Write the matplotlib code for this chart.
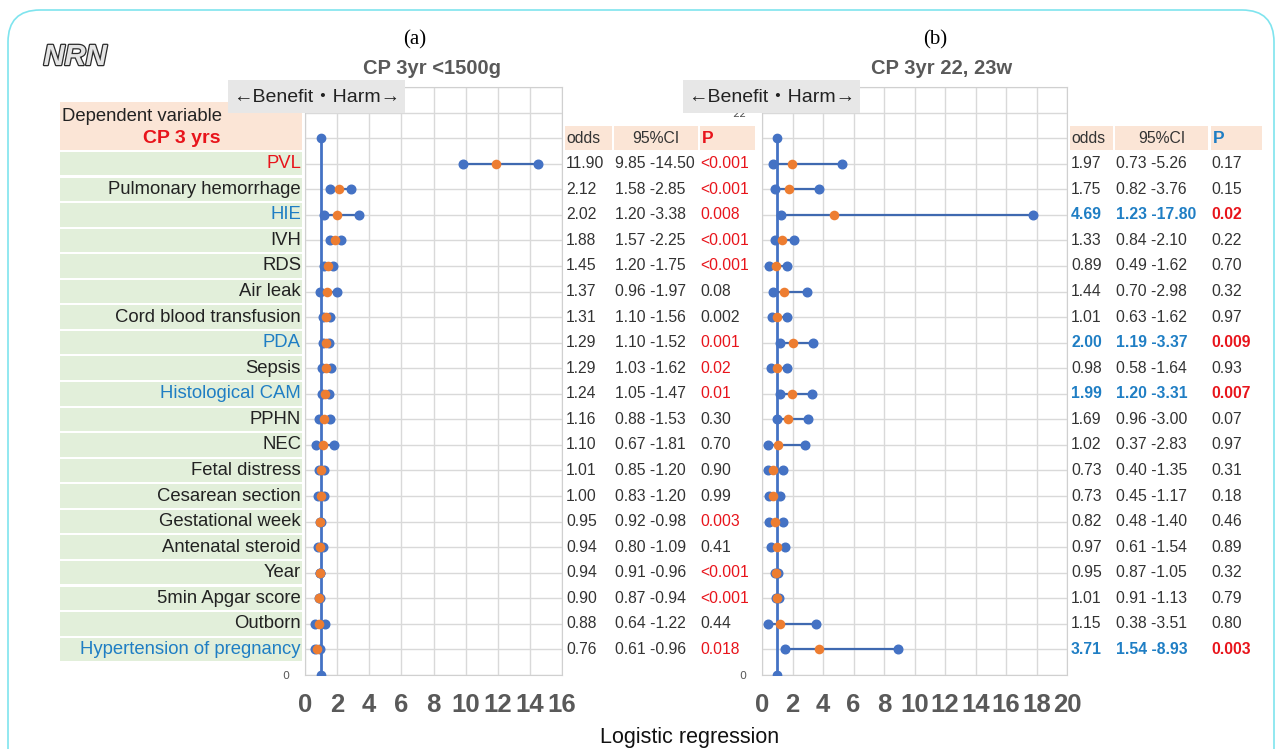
"""Forest plots of CP at 3 years: logistic regression odds ratios, two cohorts."""

import matplotlib
matplotlib.use("Agg")
import matplotlib.pyplot as plt
import matplotlib.transforms as mtransforms
import matplotlib.patheffects as pe
from matplotlib.patches import Rectangle, FancyBboxPatch
import numpy as np

W, H = 1282, 749

LABELS = ["PVL", "Pulmonary hemorrhage", "HIE", "IVH", "RDS", "Air leak",
          "Cord blood transfusion", "PDA", "Sepsis", "Histological CAM", "PPHN",
          "NEC", "Fetal distress", "Cesarean section", "Gestational week",
          "Antenatal steroid", "Year", "5min Apgar score", "Outborn",
          "Hypertension of pregnancy"]
LABEL_RED = ["PVL"]
LABEL_BLUE = ["HIE", "PDA", "Histological CAM", "Hypertension of pregnancy"]

# (a) CP 3yr <1500g
A_ODDS = [11.90, 2.12, 2.02, 1.88, 1.45, 1.37, 1.31, 1.29, 1.29, 1.24, 1.16,
          1.10, 1.01, 1.00, 0.95, 0.94, 0.94, 0.90, 0.88, 0.76]
A_LO = [9.85, 1.58, 1.20, 1.57, 1.20, 0.96, 1.10, 1.10, 1.03, 1.05, 0.88,
        0.67, 0.85, 0.83, 0.92, 0.80, 0.91, 0.87, 0.64, 0.61]
A_HI = [14.50, 2.85, 3.38, 2.25, 1.75, 1.97, 1.56, 1.52, 1.62, 1.47, 1.53,
        1.81, 1.20, 1.20, 0.98, 1.09, 0.96, 0.94, 1.22, 0.96]
A_P = ["<0.001", "<0.001", "0.008", "<0.001", "<0.001", "0.08", "0.002",
       "0.001", "0.02", "0.01", "0.30", "0.70", "0.90", "0.99", "0.003",
       "0.41", "<0.001", "<0.001", "0.44", "0.018"]
A_P_RED = [True, True, True, True, True, False, False, True, True, True,
           False, False, False, False, True, False, True, True, False, True]

# (b) CP 3yr 22, 23w
B_ODDS = [1.97, 1.75, 4.69, 1.33, 0.89, 1.44, 1.01, 2.00, 0.98, 1.99, 1.69,
          1.02, 0.73, 0.73, 0.82, 0.97, 0.95, 1.01, 1.15, 3.71]
B_LO = [0.73, 0.82, 1.23, 0.84, 0.49, 0.70, 0.63, 1.19, 0.58, 1.20, 0.96,
        0.37, 0.40, 0.45, 0.48, 0.61, 0.87, 0.91, 0.38, 1.54]
B_HI = [5.26, 3.76, 17.80, 2.10, 1.62, 2.98, 1.62, 3.37, 1.64, 3.31, 3.00,
        2.83, 1.35, 1.17, 1.40, 1.54, 1.05, 1.13, 3.51, 8.93]
B_P = ["0.17", "0.15", "0.02", "0.22", "0.70", "0.32", "0.97", "0.009",
       "0.93", "0.007", "0.07", "0.97", "0.31", "0.18", "0.46", "0.89", "0.32",
       "0.79", "0.80", "0.003"]
B_SIG = [False, False, True, False, False, False, False, True, False, True,
         False, False, False, False, False, False, False, False, False, True]

# reference line at OR = 1
REF_X = [1, 1]
REF_Y = [0, 21]

BLUE = "#4472c4"
LINE = "#3f69b0"
ORANGE = "#ed7d31"
RED = "#e8141b"
TXT_BLUE = "#1f7ec4"
GRAY = "#595959"
DARK = "#333333"
GREEN_CELL = "#e2efda"
PEACH = "#fbe5d6"

SANS = ["Liberation Sans", "Noto Sans CJK JP", "DejaVu Sans"]
NUM_SIZE = 11.3

rows = np.arange(len(LABELS))[::-1] + 1     # PVL on top (20) ... 1 at bottom


def px_rect(x0, y0, x1, y1):
    """Pixel box (top-left origin) -> figure fraction [l, b, w, h]."""
    return [x0 / W, 1 - y1 / H, (x1 - x0) / W, (y1 - y0) / H]


def forest(ax, odds, lo, hi, xmax):
    ax.set_xlim(0, xmax)
    ax.set_ylim(0, 23)
    ax.plot(REF_X, REF_Y, color=BLUE, lw=2, marker="o", ms=6, zorder=3)
    for y, l, h in zip(rows, lo, hi):
        ax.plot([l, h], [y, y], color=LINE, lw=1.6, marker="o", ms=6.2,
                mfc=BLUE, mec=BLUE, zorder=4)
    ax.scatter(odds, rows, color=ORANGE, s=48, zorder=5, lw=0)

    ax.set_xticks(range(0, xmax + 1, 2))
    ax.set_yticks(range(0, 24))
    ax.set_yticklabels(["0" if t == 0 else "22" if t == 22 else ""
                        for t in range(0, 24)])
    ax.tick_params(axis="x", length=0, pad=13, labelsize=18.5, labelcolor=GRAY)
    ax.tick_params(axis="y", length=0, pad=11, labelsize=8, labelcolor=GRAY)
    for lab in ax.get_xticklabels():
        lab.set_family(SANS)
        lab.set_weight("bold")
    ax.grid(color="#d9d9d9", lw=1)
    ax.set_axisbelow(True)
    for s in ax.spines.values():
        s.set_color("#d0d0d0")


fig = plt.figure(figsize=(W / 100, H / 100), dpi=100)
axa = fig.add_axes(px_rect(305, 87, 562, 675))
axb = fig.add_axes(px_rect(762, 87, 1067, 675))
forest(axa, A_ODDS, A_LO, A_HI, 16)
forest(axb, B_ODDS, B_LO, B_HI, 20)

# overlay in pixel coordinates for tables, titles and frame
bg = fig.add_axes([0, 0, 1, 1], zorder=5)
bg.set_xlim(0, W)
bg.set_ylim(H, 0)
bg.axis("off")
tr = mtransforms.blended_transform_factory(bg.transData, axa.transData)

bg.add_patch(FancyBboxPatch((8, 10), 1266, 800,
                            boxstyle="round,pad=0,rounding_size=32",
                            fc="none", ec="#7fe4ee", lw=1.2))

# logo
bg.text(75, 57, "NRN", fontsize=21, style="italic", weight="bold",
        family=SANS, color="#e4e4e4", ha="center", va="center",
        path_effects=[pe.withStroke(linewidth=1.8, foreground="#2b2b2b")])

# left label table
bg.add_patch(Rectangle((60, 20.55), 242, 1.85, transform=tr, fc=PEACH, lw=0))
bg.text(62, 21.86, "Dependent variable", transform=tr, fontsize=13.3,
        family=SANS, color="#222222", va="center")
bg.text(182, 20.98, "CP 3 yrs", transform=tr, fontsize=14, weight="bold",
        family=SANS, color=RED, ha="center", va="center")
for y, lab in zip(rows, LABELS):
    bg.add_patch(Rectangle((60, y - 0.46), 242, 0.92, transform=tr,
                           fc=GREEN_CELL, lw=0))
    col = RED if lab in LABEL_RED else TXT_BLUE if lab in LABEL_BLUE else "#222222"
    bg.text(301, y, lab, transform=tr, fontsize=13.3, family=SANS, color=col,
            ha="right", va="center")


def value_table(x_odds, x_ci, x_p, widths, odds, lo, hi, pvals, p_style,
                p_head_col):
    # header cells
    cells = [(x_odds - 1, widths[0]), (x_ci, widths[1]), (x_p, widths[2])]
    for x0, w in cells:
        bg.add_patch(Rectangle((x0, 20.53), w, 0.94, transform=tr,
                               fc=PEACH, lw=0))
    bg.text(x_odds, 21, "odds", transform=tr, fontsize=NUM_SIZE, family=SANS,
            color=DARK, va="center")
    bg.text(x_ci + widths[1] / 2, 21, "95%CI", transform=tr, fontsize=NUM_SIZE,
            family=SANS, color=DARK, ha="center", va="center")
    bg.text(x_p + 2, 21, "P", transform=tr, fontsize=12.5, family=SANS,
            weight="bold", color=p_head_col, va="center")
    for y, o, l, h, p, st in zip(rows, odds, lo, hi, pvals, p_style):
        col, pcol, wt = st
        kw = dict(transform=tr, fontsize=NUM_SIZE, family=SANS, va="center",
                  weight=wt)
        bg.text(x_odds, y, f"{o:.2f}", color=col, **kw)
        bg.text(x_ci + 1, y, f"{l:.2f} -{h:.2f}", color=col, **kw)
        bg.text(x_p, y, p, color=pcol, **kw)


a_style = [(DARK, RED if r else DARK, "normal") for r in A_P_RED]
b_style = [(TXT_BLUE, RED, "bold") if s else (DARK, DARK, "normal")
           for s in B_SIG]
value_table(566, 614, 700, (47, 84, 55), A_ODDS, A_LO, A_HI, A_P, a_style, RED)
value_table(1071, 1115, 1211, (43, 93, 51), B_ODDS, B_LO, B_HI, B_P, b_style,
            TXT_BLUE)

# titles
for xc, tag, xt, title in [(415, "(a)", 432, "CP 3yr <1500g"),
                           (935, "(b)", 942, "CP 3yr 22, 23w")]:
    bg.text(xc, 40, tag, fontsize=15, family=["Liberation Serif", "DejaVu Serif"],
            ha="center", va="center")
    bg.text(xt, 69, title, fontsize=14.5, family=SANS, weight="bold",
            color=GRAY, ha="center", va="center")

# benefit / harm boxes
for x0, x1 in [(228, 405), (683, 860)]:
    bg.add_patch(Rectangle((x0, 80), x1 - x0, 33, fc="#e7e7e7", lw=0))
    bg.text((x0 + x1) / 2, 97, "←Benefit・Harm→", fontsize=14, family=SANS,
            color="#222222", ha="center", va="center")

bg.text(690, 737, "Logistic regression", fontsize=15.5, family=SANS,
        color="#111111", ha="center", va="center")

fig.savefig("out.png", dpi=100)
